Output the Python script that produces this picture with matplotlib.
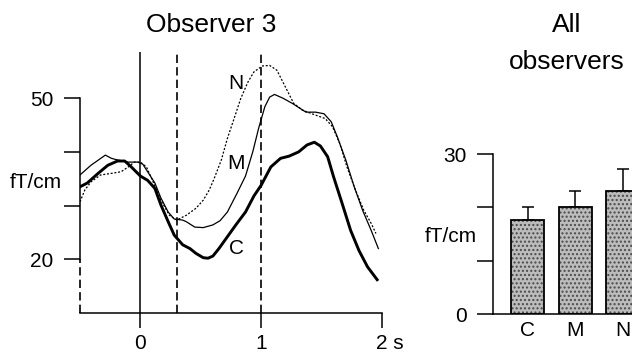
import matplotlib
matplotlib.use("Agg")
import matplotlib.pyplot as plt
import matplotlib.transforms as mtransforms

plt.rcParams['font.family'] = ['Liberation Sans', 'DejaVu Sans']

# Observer 3 time courses (s, fT/cm)
t_c = [-0.5, -0.44, -0.35, -0.27, -0.19, -0.13, -0.08, 0.0, 0.06, 0.12,
       0.17, 0.23, 0.28, 0.35, 0.41, 0.46, 0.52, 0.56, 0.6, 0.65,
       0.72, 0.79, 0.83, 0.87, 0.94, 1.0, 1.08, 1.16, 1.23, 1.31,
       1.38, 1.44, 1.49, 1.55, 1.6, 1.67, 1.74, 1.81, 1.88, 1.96]
c_vals = [33.5, 34.2, 36.0, 37.5, 38.3, 38.3, 37.3, 35.5, 34.7, 33.2,
          30.1, 27.0, 24.5, 22.7, 22.0, 21.1, 20.3, 20.2, 20.6, 22.0,
          24.2, 26.4, 27.6, 28.8, 31.8, 33.8, 37.2, 38.8, 39.2, 40.0,
          41.3, 41.8, 41.1, 39.1, 35.3, 30.4, 25.4, 21.6, 18.6, 16.2]

t_m = [-0.5, -0.41, -0.29, -0.24, -0.19, -0.1, -0.02, 0.02, 0.06, 0.12,
       0.17, 0.23, 0.28, 0.35, 0.38, 0.45, 0.52, 0.6, 0.66, 0.72,
       0.8, 0.87, 0.93, 0.98, 1.03, 1.07, 1.11, 1.18, 1.26, 1.37,
       1.45, 1.52, 1.58, 1.63, 1.7, 1.77, 1.84, 1.91, 1.97]
m_vals = [35.7, 37.5, 39.4, 38.8, 38.5, 38.1, 38.1, 37.7, 36.3, 34.2,
          31.4, 28.8, 27.5, 27.3, 27.0, 26.0, 25.9, 26.4, 27.2, 28.8,
          32.3, 35.5, 40.0, 44.5, 48.4, 50.2, 50.7, 50.0, 49.0, 47.4,
          47.4, 47.1, 45.6, 42.8, 38.5, 33.5, 29.1, 25.4, 22.0]

t_n = [-0.5, -0.46, -0.41, -0.33, -0.24, -0.16, -0.1, -0.05, 0.0, 0.05,
       0.1, 0.17, 0.24, 0.3, 0.38, 0.46, 0.52, 0.57, 0.61, 0.67,
       0.72, 0.78, 0.83, 0.89, 0.94, 1.01, 1.07, 1.13, 1.2, 1.27,
       1.34, 1.42, 1.53, 1.59, 1.65, 1.71, 1.78, 1.85, 1.91, 1.95]
n_vals = [30.7, 32.9, 34.4, 35.7, 36.0, 36.3, 37.2, 38.1, 38.1, 37.2,
          34.7, 31.0, 28.2, 27.3, 28.2, 29.5, 31.0, 32.9, 35.0, 38.5,
          42.5, 46.5, 49.9, 53.0, 54.9, 56.0, 56.1, 55.2, 52.1, 49.0,
          47.8, 47.1, 46.2, 44.7, 41.6, 37.2, 32.9, 29.1, 26.7, 24.8]

# event markers (s)
solid_marks = [0]
dashed_marks = [0.3, 1.0]

# All observers
bar_labels = ['C', 'M', 'N']
bar_means = [17.6, 20.0, 23.1]
bar_errs = [2.5, 3.0, 4.0]

W, H = 632, 356
fig = plt.figure(figsize=(W / 100, H / 100), dpi=100)

# ---- left panel
ax = fig.add_axes([80 / W, 1 - 313 / H, 302 / W, 261 / H])
ax.set_xlim(-0.5, 2.0)
ax.set_ylim(10, 58.6)

for x in solid_marks:
    ax.axvline(x, color='black', lw=1.1)
for x in dashed_marks:
    ax.axvline(x, color='black', lw=1.2, dashes=(5, 2.5))
ax.vlines(-0.5, 10, 20, colors='black', lw=1.2, linestyles=(0, (5, 2.5)),
          clip_on=False)

ax.plot(t_n, n_vals, color='black', lw=0.9, dashes=(1.6, 1.4))
ax.plot(t_m, m_vals, color='black', lw=0.9)
ax.plot(t_c, c_vals, color='black', lw=2.1)

ax.text(0.793, 52.8, 'N', fontsize=15, ha='center', va='center')
ax.text(0.793, 37.9, 'M', fontsize=15, ha='center', va='center')
ax.text(0.793, 22.1, 'C', fontsize=15, ha='center', va='center')

for s in ['top', 'right']:
    ax.spines[s].set_visible(False)
ax.spines['left'].set_bounds(20, 50)
ax.spines['left'].set_linewidth(1.1)
ax.spines['bottom'].set_linewidth(1.1)
ax.set_yticks([20, 30, 40, 50])
ax.set_yticklabels(['20', '', '', '50'])
ax.set_xticks([0, 1, 2])
ax.set_xticklabels(['0', '1', '2 s'])
ax.tick_params(axis='y', direction='out', length=11.5, width=1.1,
               labelsize=15, pad=7.5)
ax.tick_params(axis='x', direction='out', length=11, width=1.1,
               labelsize=15, pad=4)
lab = ax.get_xticklabels()[2]
lab.set_transform(lab.get_transform() +
                  mtransforms.ScaledTranslation(8 / 100, 0, fig.dpi_scale_trans))

fig.text(36 / W, 1 - 182 / H, 'fT/cm', fontsize=15, ha='center', va='center')
fig.text(211 / W, 1 - 25 / H, 'Observer 3', fontsize=19, ha='center',
         va='center')

# ---- right panel
bx = fig.add_axes([493 / W, 1 - 314 / H, (W - 493) / W, 160 / H])
bx.set_xlim(-0.726, 2.19)
bx.set_ylim(0, 30)
pos = list(range(len(bar_labels)))
bx.bar(pos, bar_means, width=0.69, color='#bcbcbc', edgecolor='#4a4a4a',
       hatch='....', lw=0, zorder=2)
bx.bar(pos, bar_means, width=0.69, fill=False, edgecolor='black', lw=1.3,
       zorder=3)
bx.errorbar(pos, bar_means, yerr=[[0] * len(bar_errs), bar_errs], fmt='none',
            ecolor='black', elinewidth=1.1, capsize=4.5, capthick=1.1,
            zorder=1)

for s in ['top', 'right']:
    bx.spines[s].set_visible(False)
bx.spines['left'].set_linewidth(1.1)
bx.spines['bottom'].set_linewidth(1.1)
bx.set_yticks([0, 10, 20, 30])
bx.set_yticklabels(['0', '', '', '30'])
bx.set_xticks(pos)
bx.set_xticklabels(bar_labels)
bx.tick_params(axis='y', direction='out', length=11.5, width=1.1,
               labelsize=15, pad=7.5)
bx.tick_params(axis='x', length=0, labelsize=15, pad=5)

fig.text(451 / W, 1 - 236 / H, 'fT/cm', fontsize=15, ha='center', va='center')
fig.text(567 / W, 1 - 25 / H, 'All', fontsize=19, ha='center', va='center')
fig.text(567 / W, 1 - 62 / H, 'observers', fontsize=19, ha='center',
         va='center')

plt.savefig('out.png', dpi=100)
